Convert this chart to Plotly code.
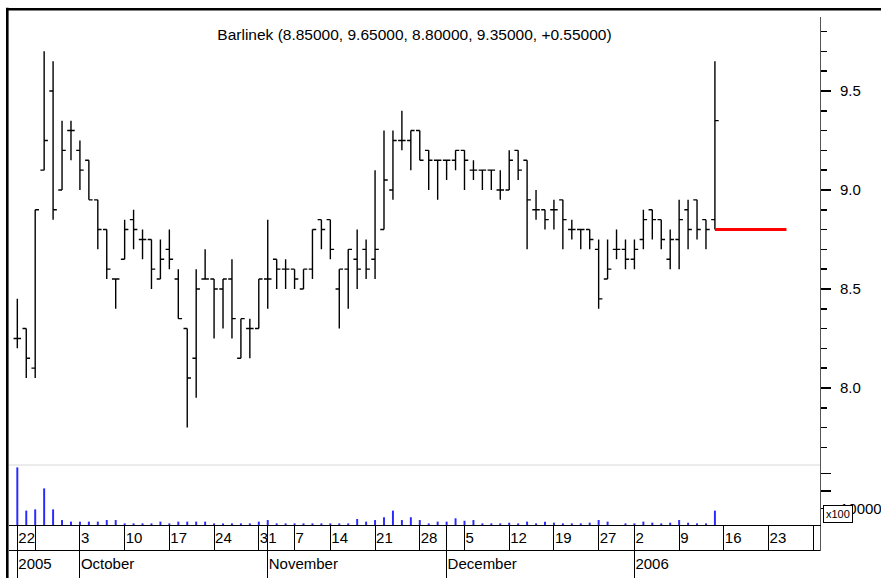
import plotly.graph_objects as go

# ---------------- data ----------------
trading_days = [
    "2005-09-22", "2005-09-23", "2005-09-26", "2005-09-27", "2005-09-28", "2005-09-29", "2005-09-30",
    "2005-10-03", "2005-10-04", "2005-10-05", "2005-10-06", "2005-10-07",
    "2005-10-10", "2005-10-11", "2005-10-12", "2005-10-13", "2005-10-14",
    "2005-10-17", "2005-10-18", "2005-10-19", "2005-10-20", "2005-10-21",
    "2005-10-24", "2005-10-25", "2005-10-26", "2005-10-27", "2005-10-28",
    "2005-10-31", "2005-11-02", "2005-11-03", "2005-11-04",
    "2005-11-07", "2005-11-08", "2005-11-09", "2005-11-10",
    "2005-11-14", "2005-11-15", "2005-11-16", "2005-11-17", "2005-11-18",
    "2005-11-21", "2005-11-22", "2005-11-23", "2005-11-24", "2005-11-25",
    "2005-11-28", "2005-11-29", "2005-11-30", "2005-12-01", "2005-12-02",
    "2005-12-05", "2005-12-06", "2005-12-07", "2005-12-08", "2005-12-09",
    "2005-12-12", "2005-12-13", "2005-12-14", "2005-12-15", "2005-12-16",
    "2005-12-19", "2005-12-20", "2005-12-21", "2005-12-22", "2005-12-23",
    "2005-12-27", "2005-12-28", "2005-12-29", "2005-12-30",
    "2006-01-02", "2006-01-03", "2006-01-04", "2006-01-05", "2006-01-06",
    "2006-01-09", "2006-01-10", "2006-01-11", "2006-01-12", "2006-01-13",
    "2006-01-16", "2006-01-17", "2006-01-18", "2006-01-19", "2006-01-20",
    "2006-01-23", "2006-01-24", "2006-01-25", "2006-01-26", "2006-01-27",
    "2006-01-30", "2006-01-31",
]

opens = [8.25, 8.30, 8.10, 9.10, 9.50, 9.00, 9.30, 9.20, 9.15, 8.95,
         8.80, 8.55, 8.65, 8.85, 8.75, 8.75, 8.55, 8.70, 8.55, 8.30,
         8.15, 8.55, 8.55, 8.50, 8.55, 8.15, 8.30, 8.30, 8.55, 8.65,
         8.60, 8.60, 8.50, 8.60, 8.85, 8.85, 8.50, 8.60, 8.65, 8.70,
         8.65, 8.80, 9.00, 9.25, 9.25, 9.30, 9.20, 9.15, 9.15, 9.15,
         9.20, 9.10, 9.10, 9.10, 9.00, 9.00, 9.20, 9.15, 8.90, 8.90,
         8.90, 8.95, 8.80, 8.80, 8.80, 8.70, 8.55, 8.70, 8.70, 8.65,
         8.75, 8.90, 8.85, 8.65, 8.75, 8.90, 8.95, 8.85, 8.85]
highs = [8.45, 8.30, 8.90, 9.70, 9.65, 9.35, 9.35, 9.25, 9.15, 8.95,
         8.80, 8.55, 8.85, 8.90, 8.80, 8.75, 8.75, 8.80, 8.60, 8.30,
         8.60, 8.70, 8.55, 8.55, 8.65, 8.35, 8.35, 8.55, 8.85, 8.65,
         8.65, 8.60, 8.60, 8.80, 8.85, 8.85, 8.60, 8.70, 8.80, 8.75,
         9.10, 9.30, 9.30, 9.40, 9.30, 9.30, 9.20, 9.15, 9.15, 9.20,
         9.20, 9.15, 9.10, 9.10, 9.10, 9.20, 9.20, 9.15, 9.00, 8.90,
         8.95, 8.95, 8.85, 8.80, 8.80, 8.75, 8.75, 8.80, 8.75, 8.75,
         8.90, 8.90, 8.85, 8.80, 8.95, 8.95, 8.95, 8.85, 9.65]
lows = [8.20, 8.05, 8.05, 9.10, 8.85, 9.00, 9.15, 9.00, 8.95, 8.70,
        8.55, 8.40, 8.65, 8.70, 8.65, 8.50, 8.55, 8.60, 8.35, 7.80,
        7.95, 8.55, 8.25, 8.30, 8.25, 8.15, 8.15, 8.30, 8.40, 8.50,
        8.50, 8.50, 8.50, 8.55, 8.70, 8.65, 8.30, 8.40, 8.50, 8.55,
        8.55, 8.80, 8.95, 9.20, 9.10, 9.15, 9.00, 8.95, 9.05, 9.10,
        9.00, 9.05, 9.00, 9.00, 8.95, 9.00, 9.05, 8.70, 8.85, 8.80,
        8.80, 8.70, 8.75, 8.70, 8.70, 8.40, 8.55, 8.65, 8.60, 8.60,
        8.70, 8.75, 8.70, 8.60, 8.60, 8.70, 8.75, 8.70, 8.80]
closes = [8.25, 8.15, 8.90, 9.25, 8.90, 9.20, 9.30, 9.10, 8.95, 8.80,
          8.60, 8.55, 8.80, 8.80, 8.75, 8.60, 8.65, 8.65, 8.35, 8.05,
          8.50, 8.55, 8.50, 8.55, 8.35, 8.35, 8.30, 8.55, 8.55, 8.60,
          8.60, 8.55, 8.60, 8.80, 8.80, 8.70, 8.60, 8.70, 8.60, 8.60,
          8.70, 9.05, 9.25, 9.25, 9.30, 9.15, 9.15, 9.15, 9.15, 9.20,
          9.15, 9.10, 9.10, 9.10, 9.00, 9.15, 9.10, 8.95, 8.90, 8.85,
          8.90, 8.85, 8.80, 8.80, 8.75, 8.45, 8.60, 8.70, 8.65, 8.70,
          8.85, 8.85, 8.75, 8.75, 8.85, 8.80, 8.80, 8.80, 9.35]
volumes = [33500, 8800, 9500, 21500, 9500, 3400, 2500, 2500, 2500, 2500,
           3400, 3400, 1500, 1500, 1500, 1500, 2500, 1500, 2500, 2500,
           2500, 2500, 1500, 1500, 1500, 1500, 1500, 2500, 3400, 1500,
           1500, 1500, 1500, 1500, 1500, 1500, 1500, 1500, 4000, 2500,
           3400, 5000, 8800, 3400, 5000, 3400, 1500, 2500, 2500, 4400,
           3000, 3400, 1500, 1500, 1500, 1900, 1500, 2500, 1500, 2500,
           1900, 1500, 1500, 1500, 1900, 3400, 2500, 600, 1500, 1500,
           2500, 1900, 1500, 1900, 3400, 1900, 1500, 1500, 8800]

title_text = "Barlinek (8.85000, 9.65000, 8.80000, 9.35000, +0.55000)"
red_level = 8.80
red_from, red_to = "2006-01-13", "2006-01-25"

day_tick_dates = ["2005-09-22", "2005-09-26", "2005-10-03", "2005-10-10", "2005-10-17",
                  "2005-10-24", "2005-10-31", "2005-11-02", "2005-11-07", "2005-11-14",
                  "2005-11-21", "2005-11-28", "2005-12-01", "2005-12-05", "2005-12-12",
                  "2005-12-19", "2005-12-27", "2006-01-02", "2006-01-09", "2006-01-16",
                  "2006-01-23", "2006-01-30"]
day_tick_text = ["22", "", "3", "10", "17", "24", "31", "", "7", "14", "21", "28", "",
                 "5", "12", "19", "27", "2", "9", "16", "23", "30"]
month_tick_dates = ["2005-09-22", "2005-10-03", "2005-11-02", "2005-12-01", "2006-01-02"]
month_tick_text = ["2005", "October", "November", "December", "2006"]

# ---------------- figure ----------------
pos = {d: i for i, d in enumerate(trading_days)}
n = len(opens)
xs = list(range(n))
xrange = [-0.93, 89.75]

FONT = "Liberation Sans, Arial, sans-serif"
FS = 15

fig = go.Figure()
fig.add_trace(go.Ohlc(
    x=xs, open=opens, high=highs, low=lows, close=closes,
    increasing=dict(line=dict(color="black", width=1.4)),
    decreasing=dict(line=dict(color="black", width=1.4)),
    tickwidth=0.42, xaxis="x", yaxis="y", hoverinfo="skip",
))
fig.add_trace(go.Scatter(
    x=[pos[red_from], pos[red_to]], y=[red_level, red_level], mode="lines",
    line=dict(color="#ff0000", width=3), xaxis="x", yaxis="y", hoverinfo="skip",
))
fig.add_trace(go.Bar(
    x=xs, y=volumes, width=0.22, marker=dict(color="#2a2aff", line=dict(width=0)),
    xaxis="x2", yaxis="y2", hoverinfo="skip",
))
fig.add_trace(go.Scatter(x=[], y=[], xaxis="x3", yaxis="y3"))
fig.add_trace(go.Scatter(x=[], y=[], xaxis="x4", yaxis="y4"))

H, W = 578, 881
ML, MR = 9, 61
mt, mb = 9, 0
ph = H - mt - mb
pw = W - ML - MR


def py(pix):
    return (H - pix) / ph


def px(pix):
    return (pix - ML) / pw


fig.update_layout(
    width=W, height=H,
    margin=dict(l=ML, r=MR, t=mt, b=mb),
    paper_bgcolor="white", plot_bgcolor="white",
    showlegend=False,
    font=dict(family=FONT, size=FS, color="black"),
    title=dict(text=title_text, x=0.5, xref="paper", xanchor="center",
               y=(H - 35) / H, yref="container", yanchor="middle",
               font=dict(family=FONT, size=15.5, color="black")),
    xaxis=dict(domain=[0, 1], range=xrange, anchor="y", visible=False,
               rangeslider=dict(visible=False), fixedrange=True),
    xaxis2=dict(domain=[0, 1], range=xrange, anchor="y2", visible=False, fixedrange=True),
    xaxis3=dict(domain=[0, 1], range=xrange, anchor="y3", side="top",
                showline=True, linecolor="black", linewidth=1,
                ticks="inside", ticklen=24, tickwidth=1, tickcolor="black",
                tickvals=[pos[d] for d in day_tick_dates], ticktext=day_tick_text,
                ticklabelposition="inside right", ticklabelstandoff=3,
                showgrid=False, zeroline=False,
                tickfont=dict(family=FONT, size=FS, color="black")),
    xaxis4=dict(domain=[0, 1], range=xrange, anchor="y4", side="top",
                showline=True, linecolor="black", linewidth=1,
                ticks="inside", ticklen=28, tickwidth=1, tickcolor="black",
                tickvals=[pos[d] for d in month_tick_dates], ticktext=month_tick_text,
                ticklabelposition="inside right", ticklabelstandoff=5,
                showgrid=False, zeroline=False,
                tickfont=dict(family=FONT, size=FS, color="black")),
    yaxis=dict(domain=[py(465), py(16.7)], range=[7.611, 9.875], anchor="x", side="right",
               showline=True, linecolor="#555555", linewidth=1,
               ticks="outside", ticklen=10, tickwidth=1.5, tickcolor="black",
               tick0=0, dtick=0.5, tickformat=".1f",
               minor=dict(dtick=0.1, ticks="outside", ticklen=6, tickwidth=1.5, tickcolor="black"),
               showgrid=False, zeroline=False, ticklabelstandoff=6,
               tickfont=dict(family=FONT, size=FS, color="black")),
    yaxis2=dict(domain=[py(526), py(465)], range=[0, 34860], anchor="x2", side="right",
                showline=True, linecolor="#555555", linewidth=1,
                ticks="outside", ticklen=10, tickwidth=1.5, tickcolor="black",
                tickvals=[10000, 20000, 30000], ticktext=["10000", "", ""],
                showgrid=False, zeroline=False, ticklabelstandoff=6,
                tickfont=dict(family=FONT, size=FS, color="black")),
    yaxis3=dict(domain=[py(550.5), py(526)], range=[0, 1], anchor="x3", side="right",
                showline=True, linecolor="#555555", linewidth=1, ticks="",
                showticklabels=False, showgrid=False, zeroline=False),
    yaxis4=dict(domain=[0, py(550.5)], range=[0, 1], anchor="x4", visible=False),
    shapes=[
        dict(type="line", xref="paper", yref="paper", x0=px(7.3), x1=px(7.3), y0=0, y1=1.002,
             line=dict(color="black", width=2.6), layer="above"),
        dict(type="line", xref="paper", yref="paper", x0=px(6), x1=px(881), y0=py(9.3), y1=py(9.3),
             line=dict(color="black", width=2.4), layer="above"),
        dict(type="line", xref="paper", yref="y2 domain", x0=0, x1=1, y0=1, y1=1,
             line=dict(color="#d8d8d8", width=1)),
    ],
    annotations=[
        dict(text="x100", xref="paper", yref="paper", x=px(822.5), y=py(514),
             xanchor="left", yanchor="middle", showarrow=False,
             font=dict(family=FONT, size=11, color="black"),
             bgcolor="white", bordercolor="black", borderwidth=1, borderpad=2),
    ],
)

fig.write_html("out.html",
               config={"displayModeBar": False, "staticPlot": True},
               post_script="document.body.style.margin='0';document.body.style.padding='0';")
